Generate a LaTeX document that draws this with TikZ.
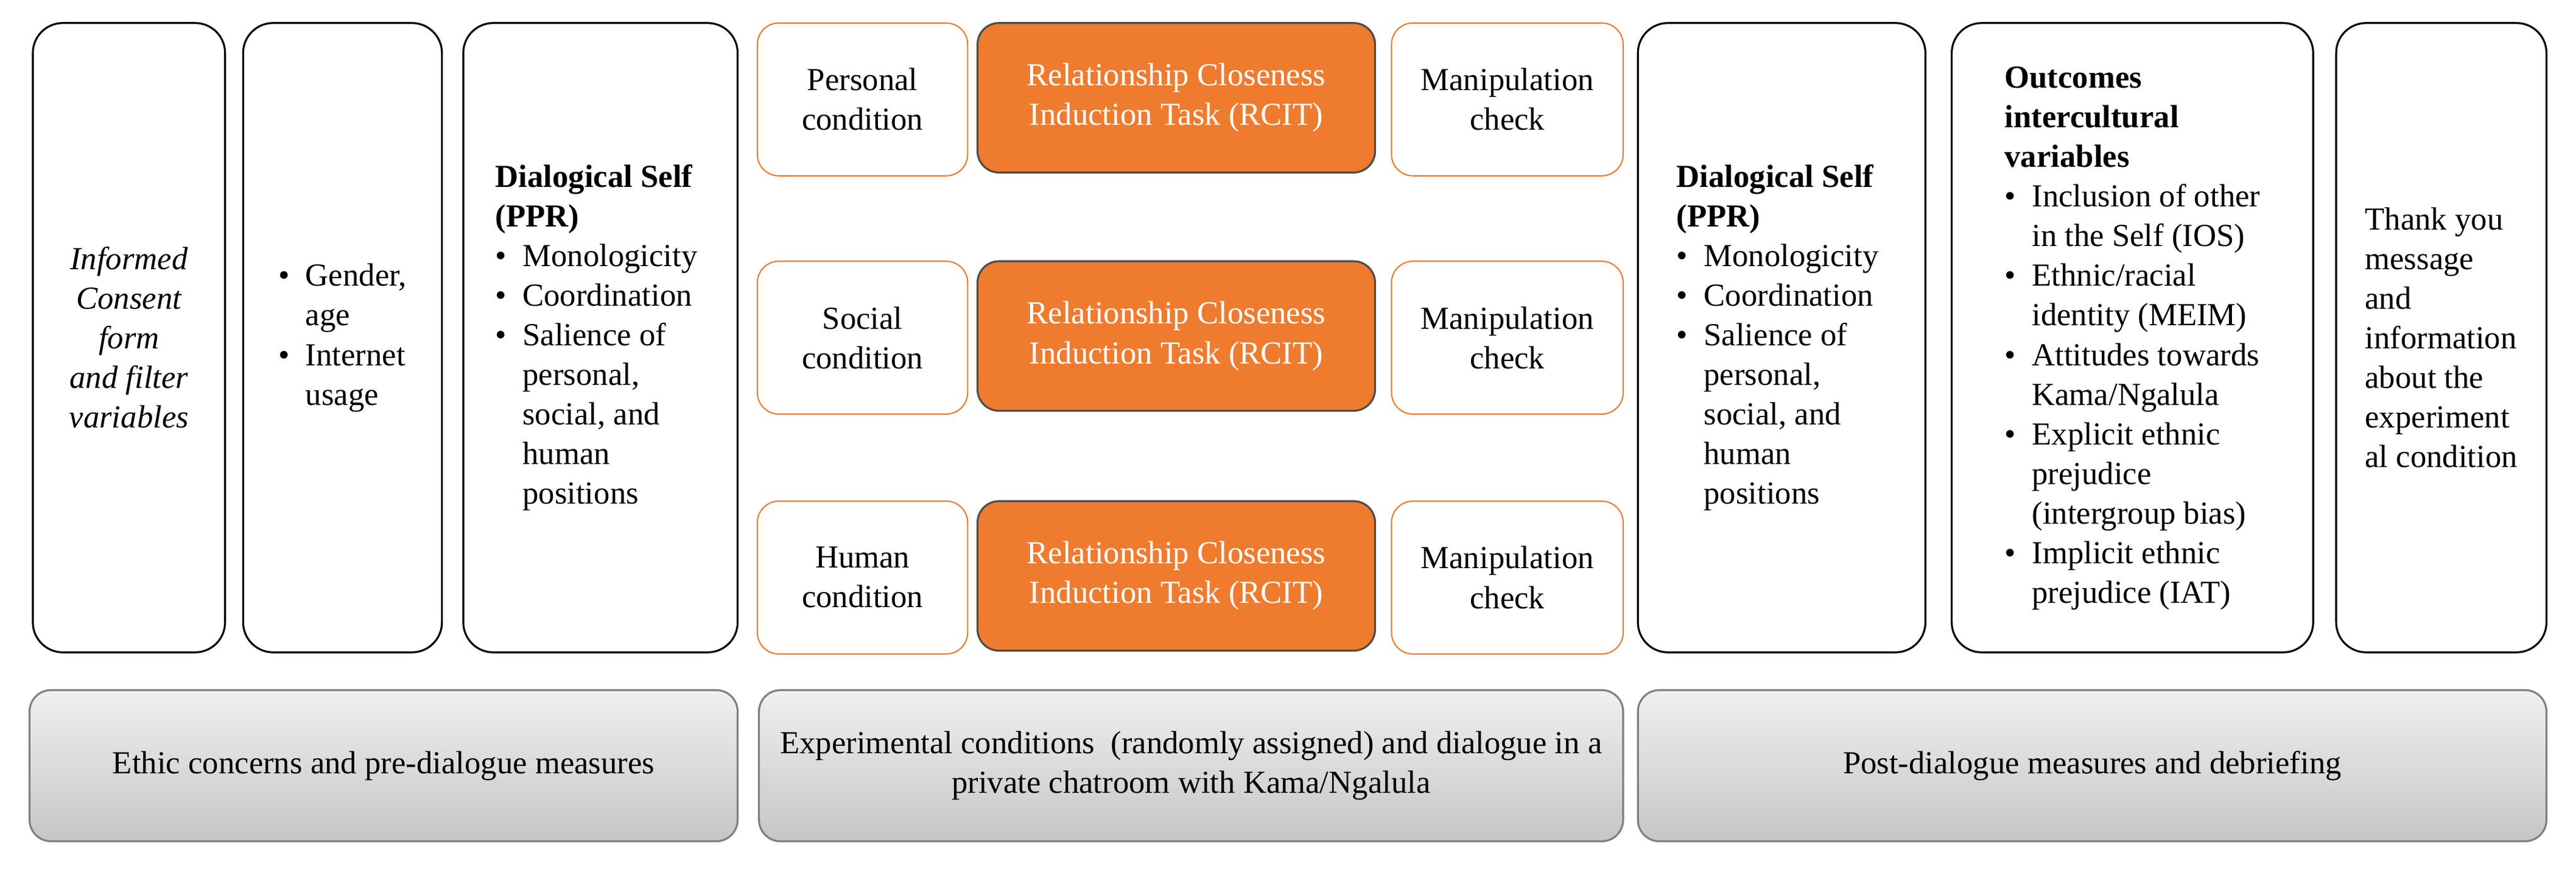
\documentclass[tikz,border=0pt]{standalone}
\usepackage{fontspec}
\setmainfont{Liberation Serif}
\usetikzlibrary{positioning}
\definecolor{rcit}{HTML}{EF7B2F}
\def\u{0.02698cm}
\tikzset{
  box/.style 2 args = {draw, rounded corners=14pt, line width=0.9pt, minimum width=#1*\u,
    minimum height=#2*\u, font=\fontsize{15}{18.5}\selectfont, inner sep=0pt},
  cond/.style = {box={#1}{93}, draw=rcit, line width=0.6pt, rounded corners=10pt, align=center},
  task/.style = {box={242}{91}, fill=rcit, draw=black!70, text=white, rounded corners=10pt, align=center},
  phase/.style = {box={#1}{92}, draw=gray, top color=gray!12, bottom color=gray!45, align=center, rounded corners=10pt}
}
\newcommand{\itm}{\textbullet}
\begin{document}
\begin{tikzpicture}[x=\u, y=-\u]
  \useasboundingbox (0,0) rectangle (1568,530.7);
  % pre-dialogue
  \node (consent) [box={117}{383}, align=center, font=\fontsize{15}{18.5}\selectfont\itshape] at (78.5,205.5)
    {Informed\\Consent\\form\\and filter\\variables};
  \node (demo) [box={121}{383}] at (208.5,205.5)
    {\begin{tabular}{@{}l@{\ \ }l@{}}\itm & Gender,\\ & age\\ \itm & Internet\\ & usage\end{tabular}};
  \node (self1) [box={167}{383}] at (365.5,205.5)
    {\begin{tabular}{@{}l@{\ \ }l@{}}\multicolumn{2}{@{}l}{\textbf{Dialogical Self}}\\ \multicolumn{2}{@{}l}{\textbf{(PPR)}}\\
     \itm & Monologicity\\ \itm & Coordination\\ \itm & Salience of\\ & personal,\\ & social, and\\ & human\\ & positions\end{tabular}};
  % conditions
  \node (pers) [cond=128] at (525,60.5) {Personal\\condition};
  \node (soc)  [cond=128] at (525,205.5) {Social\\condition};
  \node (hum)  [cond=128] at (525,351.5) {Human\\condition};
  \node (t1) [task] at (716,59.5) {Relationship Closeness\\Induction Task (RCIT)};
  \node (t2) [task] at (716,204.5) {Relationship Closeness\\Induction Task (RCIT)};
  \node (t3) [task] at (716,350.5) {Relationship Closeness\\Induction Task (RCIT)};
  \node (m1) [cond=141] at (917.5,60.5) {Manipulation\\check};
  \node (m2) [cond=141] at (917.5,205.5) {Manipulation\\check};
  \node (m3) [cond=141] at (917.5,351.5) {Manipulation\\check};
  % post-dialogue
  \node (self2) [box={175}{383}] at (1084.5,205.5)
    {\begin{tabular}{@{}l@{\ \ }l@{}}\multicolumn{2}{@{}l}{\textbf{Dialogical Self}}\\ \multicolumn{2}{@{}l}{\textbf{(PPR)}}\\
     \itm & Monologicity\\ \itm & Coordination\\ \itm & Salience of\\ & personal,\\ & social, and\\ & human\\ & positions\end{tabular}};
  \node (outc) [box={220}{383}] at (1298,205.5)
    {\begin{tabular}{@{}l@{\ \ }l@{}}\multicolumn{2}{@{}l}{\textbf{Outcomes}}\\ \multicolumn{2}{@{}l}{\textbf{intercultural}}\\ \multicolumn{2}{@{}l}{\textbf{variables}}\\
     \itm & Inclusion of other\\ & in the Self (IOS)\\ \itm & Ethnic/racial\\ & identity (MEIM)\\ \itm & Attitudes towards\\ & Kama/Ngalula\\
     \itm & Explicit ethnic\\ & prejudice\\ & (intergroup bias)\\ \itm & Implicit ethnic\\ & prejudice (IAT)\end{tabular}};
  \node (thanks) [box={128}{383}, align=left] at (1486,205.5)
    {Thank you\\message\\and\\information\\about the\\experiment\\al condition};
  % phases
  \node (ph1) [phase=431] at (233.5,466) {Ethic concerns and pre-dialogue measures};
  \node (ph2) [phase=526] at (725,466) {Experimental conditions\ \ (randomly assigned) and dialogue in a\\private chatroom with Kama/Ngalula};
  \node (ph3) [phase=553] at (1273.5,466) {Post-dialogue measures and debriefing};
\end{tikzpicture}
\end{document}
